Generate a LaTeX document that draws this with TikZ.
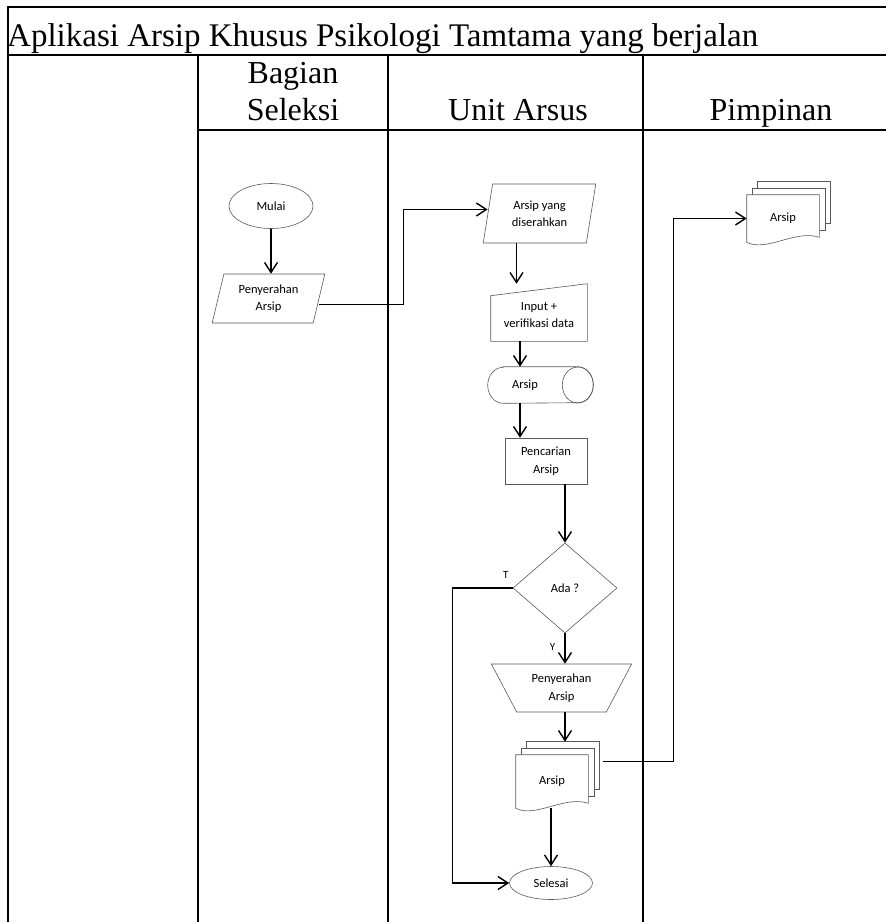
\documentclass[tikz,border=0pt]{standalone}
\usepackage{fontspec}
\setmainfont{Liberation Serif}
\newfontfamily\flowfont{Carlito}
\usetikzlibrary{shapes.geometric, arrows.meta, calc, backgrounds}

\tikzset{
  lane/.style={line width=2.5pt},
  outline/.style={draw=black!65, line width=0.6pt},
  box/.style={outline, font=\flowfont\fontsize{12.5}{17.5}\selectfont, align=center, inner sep=1pt},
  flowtext/.style={font=\flowfont\fontsize{11}{13}\selectfont, inner sep=2pt},
  flow/.style={line width=1.4pt, -{Straight Barb[length=10pt,width=13pt]}},
  terminal/.style={box, ellipse},
  io/.style={box, trapezium, trapezium stretches=true, trapezium left angle=75, trapezium right angle=105},
  docbox/.style={box, draw=none, minimum width=72pt}
}

\begin{document}
\begin{tikzpicture}[x=1pt, y=-1pt]
  \useasboundingbox (0,0) rectangle (886,922);

  % lanes
  \draw[lane] (886,7) -- (8,7) -- (8,922);
  \draw[lane] (8,55) -- (886,55);
  \draw[lane] (198,130) -- (886,130);
  \foreach \x in {198,388,643}
    \draw[lane] (\x,55) -- (\x,922);

  \node[anchor=base west, inner sep=0pt, font=\fontsize{33}{40}\selectfont] (judul) at (7,46) {Aplikasi Arsip Khusus Psikologi Tamtama yang berjalan};
  \node[anchor=base, align=center, inner sep=0pt, font=\fontsize{32}{37}\selectfont] (seleksi) at (293,120) {Bagian\\Seleksi};
  \node[anchor=base, inner sep=0pt, font=\fontsize{32}{38}\selectfont] (arsus) at (518,120) {Unit Arsus};
  \node[anchor=base, inner sep=0pt, font=\fontsize{32}{38}\selectfont] (pimpinan) at (771,120) {Pimpinan};

  % bagian seleksi
  \node[terminal, minimum width=84pt, minimum height=45pt] (mulai) at (271,206) {Mulai};
  \node[io, minimum width=113pt, minimum height=49pt] (pen1) at (268.5,298.5) {Penyerahan\\Arsip};

  % unit arsus
  \node[io, trapezium left angle=78.5, trapezium right angle=101.5, minimum width=113pt, minimum height=59pt] (serah) at (539.5,213.5) {Arsip yang\\diserahkan};
  \node[box, draw=none, minimum width=96pt, minimum height=57pt] (input) at (539,315) {Input +\\verifikasi data};
  \node[box, draw=none, minimum width=74pt, minimum height=36pt] (arsipdb) at (525,385) {Arsip};
  \node[box, minimum width=82pt, minimum height=46pt] (cari) at (546,461) {Pencarian\\Arsip};
  \node[box, diamond, inner sep=0pt, minimum width=104pt, minimum height=90pt] (ada) at (565,588) {Ada ?};
  \node[box, trapezium, trapezium stretches=true, shape border rotate=180, trapezium left angle=60, trapezium right angle=60, minimum width=141pt, minimum height=48pt] (pen2) at (561.5,688) {Penyerahan\\Arsip};
  \node[docbox, minimum height=53pt] (docA) at (552,781.5) {Arsip};
  \node[terminal, minimum width=83pt, minimum height=33pt] (selesai) at (551,883) {Selesai};

  % pimpinan
  \node[docbox, minimum height=47pt] (docB) at (783,218.5) {Arsip};

  \begin{scope}[on background layer]
    \draw[outline] ([yshift=2.5pt]input.south west) -- ([yshift=2.5pt]input.south east) -- ([yshift=2.5pt]input.north east) -- ([yshift=-9.5pt]input.north west) -- cycle;
    \draw[outline] ([xshift=15.5pt]arsipdb.north west) -- ([xshift=15.5pt]arsipdb.north east)
      arc[start angle=90, end angle=-90, x radius=15.5pt, y radius=18pt]
      -- ([xshift=15.5pt]arsipdb.south west)
      arc[start angle=270, end angle=90, x radius=15.5pt, y radius=18pt] -- cycle;
    \draw[outline] ([xshift=15.5pt]arsipdb.east) ellipse[x radius=15.5pt, y radius=18pt];
    \foreach \d in {docA,docB} {
      \foreach \s in {2,1}
        \draw[outline, fill=white] ([xshift={5.5*\s}, yshift={6.5*\s}]\d.north west) rectangle ([xshift={5.5*\s}, yshift={6.5*\s+6}]\d.south east);
      \draw[outline, fill=white] (\d.north west) -- (\d.north east) -- ([yshift=5pt]\d.south east)
        .. controls +(-24,-8) and +(20,10) .. (\d.south west) -- cycle;
    }
  \end{scope}

  \draw[flow] (mulai.south) -- (mulai.south |- pen1.north);
  \draw[flow] ([yshift=-6pt]pen1.east) -| ([xshift=-84pt,yshift=4pt]serah.west) -- ([yshift=4pt]serah.west);
  \draw[flow] ([xshift=-23pt]serah.south) -- ([xshift=-23pt,yshift=2.5pt]serah.south |- input.north);
  \draw[flow] ([xshift=-19pt,yshift=2.5pt]input.south) -- ([xshift=-19pt]input.south |- arsipdb.north);
  \draw[flow] ([xshift=-26pt]cari.north |- arsipdb.south) -- ([xshift=-26pt]cari.north);
  \draw[flow] (cari.south -| ada.north) -- (ada.north);
  \draw[flow] (ada.south) -- node[pos=0.45, left=7pt, flowtext] {Y} (ada.south |- pen2.north);
  \draw[flow] (ada.west) -- node[pos=0, anchor=south east, xshift=-1.5pt, yshift=7pt, flowtext] {T} ++(-60,0) |- (selesai.west);
  \draw[flow] (ada.south |- pen2.south) -- ($(ada.south |- docA.north)+(0,-13)$);
  \draw[flow] (docA.south -| selesai.north) -- (selesai.north);
  \draw[flow] ($(docA.east)+(15,-20)$) -| ($(docB.west)+(-73,0)$) -- (docB.west);
\end{tikzpicture}
\end{document}
